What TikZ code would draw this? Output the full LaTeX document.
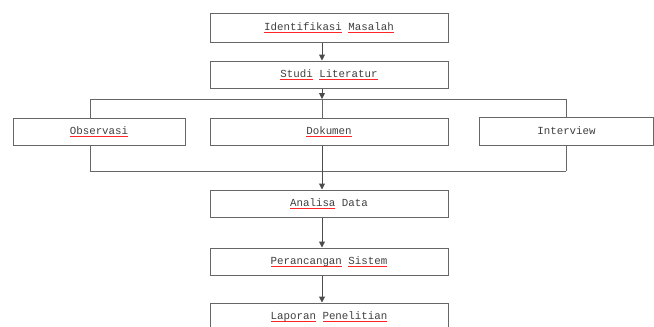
\documentclass[tikz,border=0pt]{standalone}
\usepackage{fontspec}
\setmainfont{Liberation Mono}
\usetikzlibrary{arrows.meta}
\colorlet{txt}{black!75}
\colorlet{ln}{black!60}
\newcommand\sqw[1]{\setbox0\hbox{#1}\rlap{\textcolor{red!85}{\rule[-2.3pt]{\wd0}{0.7pt}}}\box0\relax}
\tikzset{
  box/.style={draw=ln, line width=1pt, fill=white, minimum height=27pt, inner sep=0pt, font=\fontsize{10.8}{12}\selectfont, text=txt},
  wide/.style={box, minimum width=238pt},
  arr/.style={draw=black!70, line width=1pt, -{Triangle[length=6pt,width=6pt]}},
  plain/.style={draw=ln, line width=1pt}
}
\begin{document}
\begin{tikzpicture}[x=1pt,y=-1pt]
\useasboundingbox (0,0) rectangle (654,327);
\clip (0,0) rectangle (654,327);
\coordinate (ax) at (322,0);
\coordinate (topl) at (322,99);
\coordinate (botl) at (322,171);
\coordinate (lx) at (90,0);
\coordinate (rx) at (566,0);
% bracket lines behind boxes
\draw[plain] (lx |- topl) -- (rx |- topl);
\draw[plain] (lx |- botl) -- (rx |- botl);
\draw[plain] (lx |- topl) -- (lx |- botl);
\draw[plain] (rx |- topl) -- (rx |- botl);
\node[wide, minimum height=29pt] (ident) at (329,27.5) {\sqw{Identifikasi} \sqw{Masalah}};
\node[wide] (studi) at (329,74.5) {\sqw{Studi} \sqw{Literatur}};
\node[box, minimum width=172pt] (obs) at (99,131.5) {\sqw{Observasi}};
\node[wide] (dok) at (329,131.5) {\sqw{Dokumen}};
\node[box, minimum width=174pt, minimum height=28pt] (intv) at (566.5,131) {Interview};
\node[wide] (anl) at (329,203.5) {\sqw{Analisa} Data};
\node[wide] (per) at (329,261.5) {\sqw{Perancangan} \sqw{Sistem}};
\node[wide, minimum height=28pt] (lap) at (329,317) {\sqw{Laporan} \sqw{Penelitian}};
% arrows
\draw[arr] (ident.south -| ax) -- (studi.north -| ax);
\draw[arr] (studi.south -| ax) -- (topl);
\draw[plain] (topl) -- (dok.north -| ax);
\draw[arr] (dok.south -| ax) -- (anl.north -| ax);
\draw[arr] (anl.south -| ax) -- (per.north -| ax);
\draw[arr] (per.south -| ax) -- (lap.north -| ax);
\end{tikzpicture}
\end{document}
